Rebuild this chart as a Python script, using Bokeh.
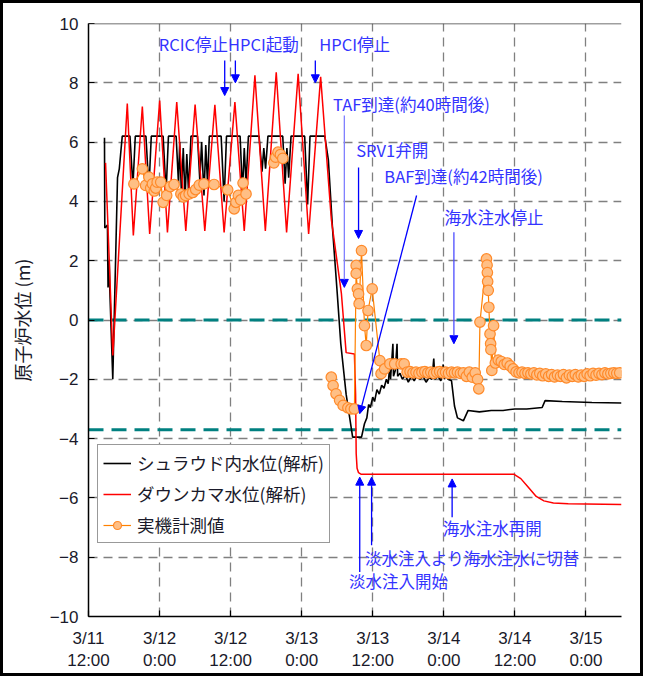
from bokeh.plotting import figure
from bokeh.models import (Span, Label, Arrow, NormalHead, Legend, LegendItem,
                          FixedTicker, ColumnDataSource)
from bokeh.embed import file_html
from bokeh.resources import INLINE

NAN = float("nan")

# hours from 3/11 12:00
x_ticks = [0, 12, 24, 36, 48, 60, 72, 84]
x_tick_labels = ["3/11\n12:00", "3/12\n0:00", "3/12\n12:00", "3/13\n0:00",
                 "3/13\n12:00", "3/14\n0:00", "3/14\n12:00", "3/15\n0:00"]
y_ticks = [-10, -8, -6, -4, -2, 0, 2, 4, 6, 8, 10]

TAF = 0.0
BAF = -3.7

# shroud water level (analysis)
shroud_t = [2.7, 2.75, 3.2, 3.3, 3.5, 3.6, 4.1, 4.9, 5.2, 5.7,
            7.0, 7.5, 7.9,
            9.7, 10.2, 10.6,
            12.6, 13.1, 13.5,
            14.8, 15.2, 15.4, 15.7, 16.0, 16.3, 16.6, 16.9, 17.3,
            18.4, 18.8, 19.1, 19.5, 19.8, 20.1, 20.4,
            22.4, 22.9, 23.3,
            25.6, 26.0, 26.3, 26.6, 27.0,
            28.8, 29.3, 29.6, 29.9, 30.3,
            32.8, 33.2, 33.5, 33.8, 34.2,
            36.5, 37.0, 37.4,
            39.9, 40.5, 41.2, 42.0, 42.6, 43.5, 44.6,
            46.1, 46.6, 47.0, 47.3, 47.6, 48.0, 48.3, 48.7, 49.1, 49.5, 49.9,
            50.3, 50.6, 50.9, 51.0, 51.4, 51.5, 51.8, 52.1, 52.2, 52.6, 53.0,
            53.5, 54.0, 54.5, 55.0, 55.5, 56.0, 56.5, 57.0, 57.5, 58.0, 58.3,
            58.5, 59.0, 59.5, 59.9, 60.1, 60.5, 60.7, 61.3, 61.8, 62.3, 63.3,
            64.1, 66.0, 68.0, 70.0, 72.0, 74.0, 76.6, 77.1, 80.0, 85.0, 90.0]
shroud_v = [6.15, 3.1, 3.2, 1.1, 2.0, 1.0, -2.0, 4.8, 5.1, 6.2,
            6.2, 4.5, 6.2,
            6.2, 4.4, 6.2,
            6.2, 4.3, 6.2,
            6.2, 4.6, 6.0, 4.2, 5.8, 4.1, 5.6, 4.3, 6.2,
            6.2, 4.7, 6.0, 4.2, 5.9, 4.6, 6.2,
            6.2, 4.0, 6.2,
            6.2, 4.3, 5.8, 4.6, 6.2,
            6.2, 5.0, 5.8, 5.1, 6.2,
            6.2, 4.6, 5.8, 4.8, 6.2,
            6.2, 3.9, 6.2,
            6.2, 5.4, 3.1, 0.9, -0.8, -2.5, -3.95,
            -3.95, -3.5, -3.3, -2.85, -2.95, -2.6, -2.75, -2.35, -2.5, -2.2, -2.3,
            -2.0, -2.15, -1.5, -2.0, -0.8, -1.9, -1.7, -0.8, -1.9, -1.8, -2.0,
            -1.85, -2.1, -1.9, -2.05, -1.85, -2.0, -1.9, -2.1, -1.95, -2.0, -1.3,
            -2.0, -1.9, -2.05, -1.5, -2.0, -1.6, -2.0, -2.05, -2.9, -3.3, -3.4,
            -3.05, -3.1, -3.05, -3.05, -3.0, -3.0, -2.95, -2.72, -2.75, -2.78, -2.8]

# downcomer water level (analysis)
down_t = [2.88, 4.11, 6.55, 7.57, 9.09, 10.33, 12.02, 13.33, 14.9, 16.43,
          18.0, 19.64, 21.34, 22.9, 24.72, 26.3, 28.1, 29.86, 31.7, 33.45,
          35.4, 37.17, 39.2, 41.0, 42.7, 43.5, 44.9, 45.1, 45.2, 45.35, 45.6,
          46.0, 71.8, 73.0, 74.3, 75.6, 76.9, 78.5, 81.0, 90.0]
down_v = [5.3, -1.2, 7.3, 2.85, 7.2, 2.9, 7.4, 2.95, 7.35, 3.0,
          7.27, 3.0, 7.26, 2.95, 7.35, 3.0, 8.25, 3.0, 8.35, 2.95,
          8.3, 2.9, 8.2, 3.4, 0.9, -1.1, -1.15, -2.5, -4.5, -5.0, -5.15,
          -5.2, -5.2, -5.35, -5.65, -5.95, -6.1, -6.17, -6.2, -6.22]

# measured values
meas_t = [7.67, 9.09, 9.65, 10.2, 10.5, 10.8, 11.1, 11.35, 11.6, 12.2, 12.6,
          13.2, 13.8, 14.45, 15.6, 16.0, 16.4, 17.0, 17.6, 18.1, 18.7, 19.5,
          21.2, 23.5, 24.6, 24.9, 25.3, 25.7, 26.1, 26.6,
          28.0,
          31.3, 31.6, 32.0, 32.4, 32.8,
          36.0,
          41.0, 41.3, 41.8, 42.4, 43.0, 43.8, 44.3, 44.9, 45.2, 45.2, 45.4,
          45.6, 45.7, 46.1, 46.6, 46.9, 47.2, 47.9, 49.2, 49.4, 50.0, 50.9,
          51.7, 52.8, 53.3,
          53.8, 54.3, 54.8, 55.3, 55.8, 56.3, 56.8, 57.3, 57.8, 58.3, 58.8,
          59.3, 59.8, 60.3, 60.8, 61.3, 61.8, 62.3, 62.8, 63.3, 63.8, 64.3,
          64.8, 65.3, 65.7, 65.9,
          66.1, 67.2, 67.3, 67.35, 67.4, 67.5, 67.6, 67.8, 67.9, 67.95, 68.1,
          68.4,
          68.7, 69.2, 69.7, 70.2, 70.7, 71.2, 71.7, 72.2, 72.7, 73.2, 73.7,
          74.2, 74.7, 75.2, 75.7, 76.2, 76.7, 77.2, 77.7, 78.2, 78.7, 79.2,
          79.7, 80.2, 80.7, 81.2, 81.7, 82.2, 82.7, 83.2, 83.7, 84.2, 84.7,
          85.2, 85.7, 86.2, 86.7, 87.2, 87.7, 88.2, 88.7, 89.2, 89.7]
meas_v = [4.59, 5.10, 4.54, 4.82, 4.45, 4.59, 4.35, 4.45, 4.65, 4.65, 3.97,
          4.20, 4.50, 4.57, 4.25, 4.15, 4.20, 4.25, 4.30, 4.40, 4.55, 4.59,
          4.57, 4.39, 3.75, 3.97, 4.20, 4.05, 4.62, 4.25,
          NAN,
          5.30, 5.49, 5.66, 5.58, 5.45,
          NAN,
          -1.93, -2.21, -2.49, -2.71, -2.88, -2.96, -3.0, -3.0, 1.84, 1.57, 1.05,
          0.88, 0.55, 2.34, -0.19, -0.86, 0.32, 1.05, -1.37, -1.81, -1.65, -1.48,
          -1.48, -1.48, -1.48,
          -1.76, -1.74, -1.78, -1.76, -1.80, -1.76, -1.74, -1.78, -1.76, -1.80, -1.76,
          -1.74, -1.78, -1.76, -1.80, -1.76, -1.78, -1.76, -1.80, -1.78, -1.90, -1.76,
          -1.93, -1.78, -2.00, -2.32,
          -0.07, 2.06, 1.85, 1.60, 1.30, 1.00, 0.43, -0.47, -0.80, -1.00, -1.70,
          -0.19,
          -1.45, -1.35, -1.40, -1.50, -1.45, -1.55, -1.65, -1.75, -1.78, -1.76, -1.80,
          -1.78, -1.82, -1.78, -1.85, -1.80, -1.88, -1.82, -1.90, -1.84, -1.92, -1.86,
          -1.90, -1.84, -1.95, -1.86, -1.90, -1.84, -1.92, -1.86, -1.90, -1.82, -1.88,
          -1.80, -1.86, -1.80, -1.84, -1.78, -1.82, -1.80, -1.78, -1.80, -1.78]

JP = "Noto Sans CJK JP"
NUM = "Liberation Sans"
BLUE = "#0000ff"
TXT_BLUE = "#3333ff"

p = figure(width=643, height=676, x_range=(0, 90), y_range=(-10, 10),
           output_backend="svg", toolbar_location=None,
           min_border_left=85, min_border_right=25, min_border_top=20,
           min_border_bottom=63)
p.outline_line_color = None
p.background_fill_color = "white"
p.border_fill_color = "white"

# axes
p.xaxis.ticker = FixedTicker(ticks=x_ticks)
p.xaxis.major_label_overrides = {t: l for t, l in zip(x_ticks, x_tick_labels)}
p.yaxis.ticker = FixedTicker(ticks=y_ticks)
for ax in (p.xaxis, p.yaxis):
    ax.axis_line_color = "black"
    ax.axis_line_width = 1.5
    ax.major_tick_in = 6
    ax.major_tick_out = 0
    ax.major_tick_line_color = "black"
    ax.major_tick_line_width = 1.2
    ax.minor_tick_line_color = None
    ax.major_label_text_font = NUM
    ax.major_label_text_font_size = "17px"
    ax.major_label_text_color = "#1a1a2a"
p.xaxis.major_label_standoff = 12
p.yaxis.major_label_standoff = 10
p.yaxis.axis_label = "原子炉水位 (m)"
p.yaxis.axis_label_text_font = JP
p.yaxis.axis_label_text_font_size = "18px"
p.yaxis.axis_label_text_font_style = "normal"
p.yaxis.axis_label_text_color = "#1a1a2a"
p.yaxis.axis_label_standoff = 12

for g in (p.xgrid, p.ygrid):
    g.grid_line_color = "#808080"
    g.grid_line_dash = "9 6"
    g.grid_line_width = 1.3
p.xgrid.ticker = FixedTicker(ticks=x_ticks)
p.ygrid.ticker = FixedTicker(ticks=y_ticks)

p.add_layout(Span(location=10, dimension="width", line_color="#404040",
                  line_width=1.5))
for lvl in (TAF, BAF):
    p.add_layout(Span(location=lvl, dimension="width", line_color="#008080",
                      line_width=3, line_dash="15 8", level="underlay"))

src_s = ColumnDataSource(dict(t=shroud_t, v=shroud_v))
src_d = ColumnDataSource(dict(t=down_t, v=down_v))
src_m = ColumnDataSource(dict(t=meas_t, v=meas_v))

r_s = p.line("t", "v", source=src_s, line_color="black", line_width=1.6)
r_d = p.line("t", "v", source=src_d, line_color="#ff0000", line_width=1.5)
r_ml = p.line("t", "v", source=src_m, line_color="#ff8000", line_width=1.2)
r_mc = p.scatter("t", "v", source=src_m, size=10.5, fill_color="#ffbf85",
                 line_color="#ff8a2a", line_width=1.2)

legend = Legend(items=[
    LegendItem(label="シュラウド内水位(解析)", renderers=[r_s]),
    LegendItem(label="ダウンカマ水位(解析)", renderers=[r_d]),
    LegendItem(label="実機計測値", renderers=[r_ml, r_mc]),
], location=(9, 73))
legend.label_text_font = JP
legend.label_text_font_size = "17.5px"
legend.label_text_color = "#1a1a2a"
legend.border_line_color = "#333333"
legend.border_line_width = 1.5
legend.background_fill_alpha = 1.0
legend.padding = 5
legend.margin = 0
legend.spacing = 6
legend.glyph_width = 28
legend.glyph_height = 20
legend.label_height = 20
legend.label_standoff = 6
p.add_layout(legend, "center")

# annotation texts
texts = [
    (11.85, 9.31, "RCIC停止HPCI起動"),
    (38.95, 9.31, "HPCI停止"),
    (41.3, 7.27, "TAF到達(約40時間後)"),
    (45.2, 5.72, "SRV1弁開"),
    (49.96, 4.84, "BAF到達(約42時間後)"),
    (60.1, 3.49, "海水注水停止"),
    (59.8, -7.0, "海水注水再開"),
    (46.7, -8.04, "淡水注入より海水注水に切替"),
    (44.0, -8.79, "淡水注入開始"),
]
for x, y, t in texts:
    p.add_layout(Label(x=x, y=y, text=t, text_font=JP, text_font_size="16.5px",
                       text_color=TXT_BLUE, text_baseline="middle",
                       text_align="left"))

arrows = [
    (23.0, 8.75, 23.0, 7.57, BLUE),
    (24.8, 8.75, 24.8, 8.0, BLUE),
    (38.3, 8.75, 38.3, 8.0, BLUE),
    (43.2, 6.9, 43.2, 1.1, "#8080ff"),
    (45.6, 5.14, 45.6, 2.75, BLUE),
    (55.4, 4.2, 45.8, -3.16, BLUE),
    (61.7, 2.96, 61.7, -0.8, "#4d4dff"),
    (61.4, -6.65, 61.4, -5.36, BLUE),
    (47.8, -7.6, 47.8, -5.3, BLUE),
    (45.8, -8.5, 45.8, -5.3, BLUE),
]
for x0, y0, x1, y1, c in arrows:
    p.add_layout(Arrow(x_start=x0, y_start=y0, x_end=x1, y_end=y1,
                       line_color=c, line_width=1.3,
                       end=NormalHead(size=8, fill_color=BLUE, line_color=BLUE,
                                      line_width=1)))

p.styles = {"border": "3px solid black"}

open("out.html", "w").write(file_html(p, INLINE))
